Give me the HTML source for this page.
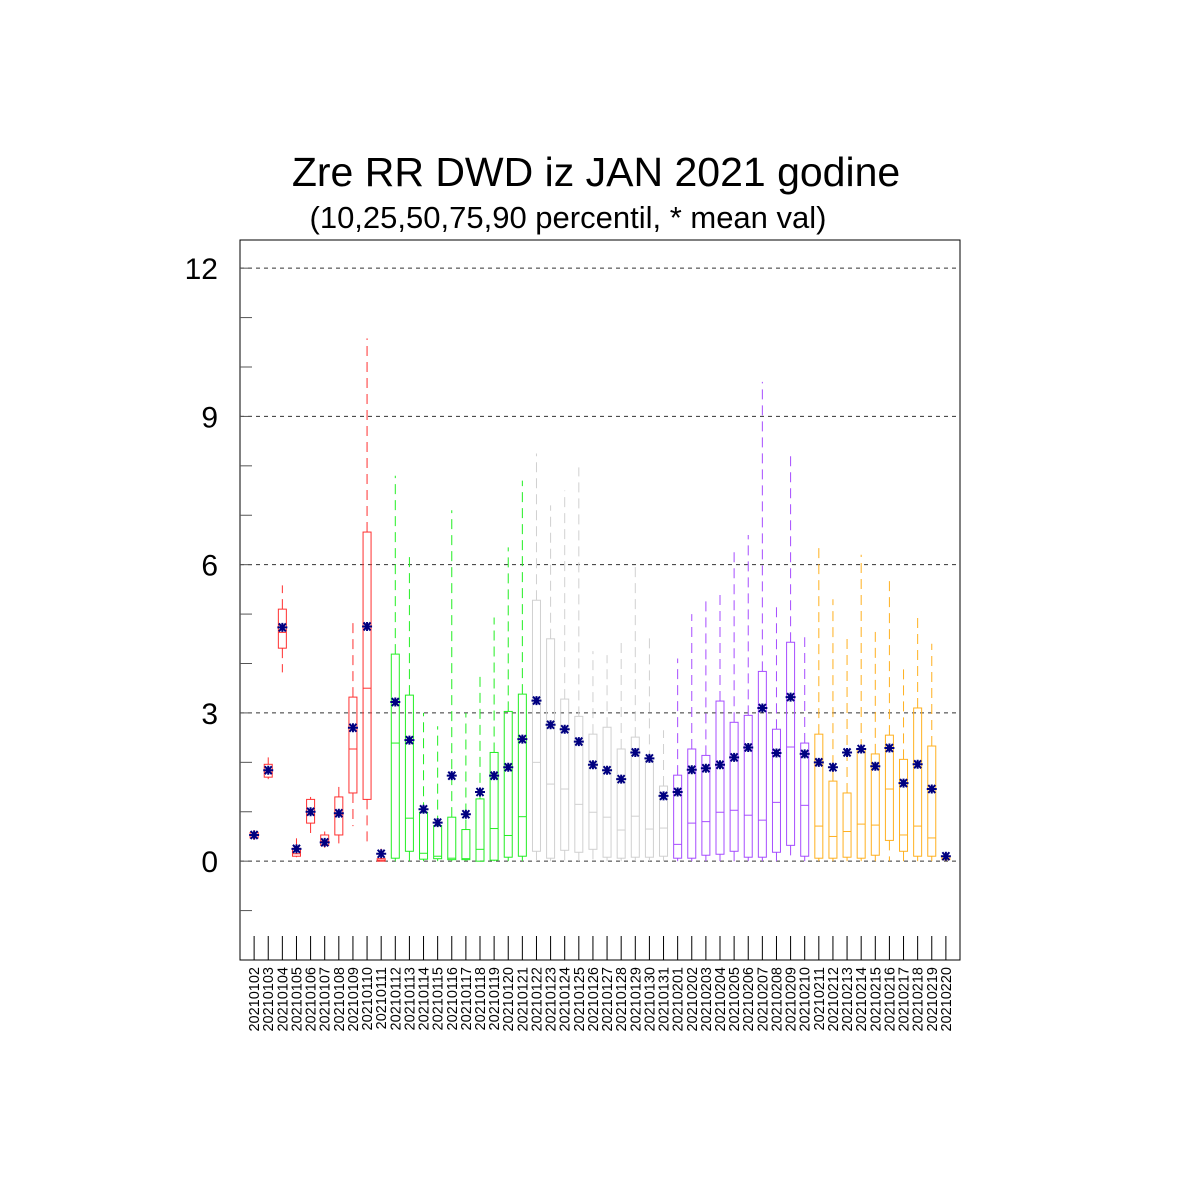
<!DOCTYPE html>
<html><head><meta charset="utf-8"><style>
html,body{margin:0;padding:0;background:#fff}
svg{display:block;font-family:"Liberation Sans",sans-serif}
</style></head><body>
<svg id="chart" width="1200" height="1200" viewBox="0 0 1200 1200">
<rect x="0" y="0" width="1200" height="1200" fill="#fff"/>
<text x="596" y="186" font-size="41" text-anchor="middle">Zre RR DWD iz JAN 2021 godine</text>
<text x="568" y="228" font-size="31" text-anchor="middle">(10,25,50,75,90 percentil, * mean val)</text>
<g id="grid"></g>
<g id="marks"></g>
<rect x="240" y="240" width="720" height="720" fill="none" stroke="#000" stroke-width="1"/>
<g id="axes"></g>
</svg>
<script>
const categories=["20210102","20210103","20210104","20210105","20210106","20210107","20210108","20210109","20210110","20210111","20210112","20210113","20210114","20210115","20210116","20210117","20210118","20210119","20210120","20210121","20210122","20210123","20210124","20210125","20210126","20210127","20210128","20210129","20210130","20210131","20210201","20210202","20210203","20210204","20210205","20210206","20210207","20210208","20210209","20210210","20210211","20210212","20210213","20210214","20210215","20210216","20210217","20210218","20210219","20210220"];
const p10=[0.43,1.66,3.82,0.08,0.57,0.27,0.36,0.71,0.36,0,0,0,0,0,0,0,0,0,0,0,0,0,0,0,0,0,0,0,0,0,0,0,0,0,0,0,0,0,0,0,0,0,0,0,0,0,0,0,0,0];
const q1=[0.47,1.70,4.31,0.10,0.77,0.32,0.53,1.38,1.25,0,0.06,0.2,0.04,0.05,0.03,0.03,0,0.02,0.08,0.1,0.2,0.06,0.22,0.18,0.24,0.08,0.06,0.08,0.08,0.1,0.06,0.06,0.12,0.14,0.2,0.08,0.08,0.18,0.32,0.1,0.06,0.06,0.08,0.06,0.12,0.42,0.2,0.1,0.1,0.03];
const med=[0.52,1.80,4.63,0.15,0.95,0.40,0.95,2.27,3.5,0.02,2.39,0.87,0.16,0.1,0.06,0.05,0.24,0.66,0.52,0.9,2.0,1.56,1.46,1.15,0.99,0.89,0.63,0.91,0.65,0.67,0.34,0.77,0.8,0.99,1.03,0.93,0.83,1.19,2.31,1.13,0.71,0.5,0.6,0.75,0.73,1.46,0.53,0.71,0.47,0.06];
const q3=[0.58,1.96,5.10,0.26,1.25,0.53,1.30,3.32,6.66,0.05,4.19,3.36,0.99,0.72,0.89,0.64,1.26,2.2,3.03,3.38,5.28,4.5,3.28,2.93,2.57,2.71,2.27,2.51,2.04,1.52,1.74,2.27,2.14,3.24,2.81,2.95,3.84,2.67,4.43,2.39,2.57,1.62,1.38,2.27,2.17,2.55,2.06,3.1,2.33,0.1];
const p90=[0.63,2.10,5.58,0.49,1.30,0.60,1.54,4.82,10.58,0.28,7.8,6.2,3.0,2.73,7.1,3.0,3.82,4.93,6.35,7.7,8.25,7.2,7.5,7.97,4.25,4.17,4.49,6.0,4.53,2.65,4.1,5.0,5.34,5.44,6.3,6.6,9.7,5.24,8.28,4.53,6.35,5.3,4.6,6.2,4.71,5.77,3.99,5.0,4.4,0.12];
const means=[0.53,1.84,4.73,0.25,1.0,0.38,0.97,2.7,4.75,0.15,3.22,2.45,1.05,0.78,1.73,0.95,1.4,1.73,1.9,2.47,3.25,2.76,2.67,2.42,1.95,1.84,1.66,2.2,2.08,1.32,1.4,1.85,1.88,1.95,2.1,2.3,3.1,2.19,3.32,2.17,2.0,1.9,2.2,2.27,1.92,2.29,1.58,1.96,1.46,0.1];
const yTicks=[0,3,6,9,12];
const groupColors=["#ff3030","#22ee22","#d0d0d0","#a64dff","#ffb020"];

const NS="http://www.w3.org/2000/svg";
const X0=240,X1=960,Y0=960,Y1=240,YMIN=-2,YMAX=12.57;
const step=(X1-X0)/(categories.length+1);
function xs(i){return X0+(i+1)*step;}
function ys(v){return Y0-(v-YMIN)/(YMAX-YMIN)*(Y0-Y1);}
function mk(tag,attrs,parent){const e=document.createElementNS(NS,tag);for(const k in attrs)e.setAttribute(k,attrs[k]);parent.appendChild(e);return e;}
const grid=document.getElementById('grid'),marks=document.getElementById('marks'),axes=document.getElementById('axes');

for(let v=-1;v<=12;v++){
  const t=mk('line',{x1:X0,x2:X0+12,y1:ys(v),y2:ys(v),stroke:'#555','stroke-width':1},axes);
  
  
}
yTicks.forEach(v=>{
  const g=mk('line',{x1:X0,x2:X1,y1:ys(v),y2:ys(v),stroke:'#333','stroke-width':1,'stroke-dasharray':'4,4'},grid);
  
  
  const t=mk('text',{x:218,y:ys(v)+11,'font-size':30,'text-anchor':'end'},axes);
  t.textContent=String(v);
  
  
});
categories.forEach((c,i)=>{
  const x=xs(i),col=groupColors[Math.floor(i/10)];
  const tk=mk('line',{x1:x,x2:x,y1:936,y2:960,stroke:'#000','stroke-width':1},axes);
  
  
  const lb=mk('text',{x:0,y:0,'font-size':14.5,'text-anchor':'end',transform:`translate(${x+5},967) rotate(-90)`},axes);
  lb.textContent=c;
  
  
  const g=mk('g',{},marks);
  
  
  const wt=mk('line',{x1:x,x2:x,y1:ys(q3[i]),y2:ys(p90[i]),stroke:col,'stroke-dasharray':'10,6'},g);
  
  
  const wb=mk('line',{x1:x,x2:x,y1:ys(q1[i]),y2:ys(p10[i]),stroke:col,'stroke-dasharray':'10,6'},g);
  
  
  const bx=mk('rect',{x:x-4,y:ys(q3[i]),width:8,height:Math.max(0.5,ys(q1[i])-ys(q3[i])),fill:'none',stroke:col,'stroke-width':1},g);
  
  
  const md=mk('line',{x1:x-4,x2:x+4,y1:ys(med[i]),y2:ys(med[i]),stroke:col},g);
  
  
  const my=ys(means[i]);
  const m=mk('path',{d:`M${x-5},${my}H${x+5}M${x-3.5},${my-4}L${x+3.5},${my+4}M${x-3.5},${my+4}L${x+3.5},${my-4}M${x},${my-4.5}V${my+4.5}`,stroke:'#000080','stroke-width':2,fill:'none'},g);
  
  
});
</script>
</body></html>
